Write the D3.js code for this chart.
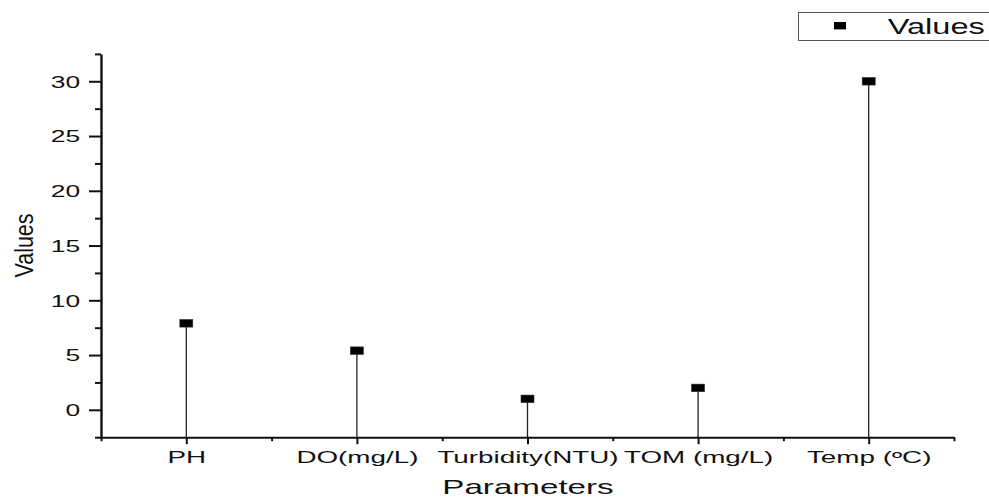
<!DOCTYPE html>
<html lang="en">
<head>
    <meta charset="UTF-8">
    <title>Parameters</title>
    <script src="https://d3js.org/d3.v7.min.js"></script>
    <style>
        body { margin: 0; background: #fff; }
        text { font-family: "Liberation Sans", Arial, sans-serif; fill: #111; }
    </style>
</head>
<body>
    <div id="chart"></div>
    <script>
    // data
    let categories = ["PH", "DO(mg/L)", "Turbidity(NTU)", "TOM (mg/L)", "Temp (\u00baC)"]
    let values = [7.9, 5.4, 1.0, 2.0, 30.0]
    let yTicks = [0, 5, 10, 15, 20, 25, 30]

    let width = 989,
        height = 497

    let svg = d3.select("#chart")
        .append("svg")
        .attr("width", width)
        .attr("height", height)

    // scales
    let x = d3.scaleLinear().domain([0.5, categories.length + 0.5]).range([101, 954])
    let y = d3.scaleLinear().domain([-2.5, 32.5]).range([437.2, 53.9])

    let idx = d3.range(1, categories.length + 1)

    // stems (drop lines to the bottom axis)
    svg.selectAll("line.stem")
        .data(values)
        .enter()
        .append("line")
        .attr("class", "stem")
        .attr("x1", (d, i) => x(i + 1))
        .attr("x2", (d, i) => x(i + 1))
        .attr("y1", d => y(d))
        .attr("y2", y(-2.5))
        .attr("stroke", "#222")
        .attr("stroke-width", 1.3)

    // markers
    svg.selectAll("rect.pt")
        .data(values)
        .enter()
        .append("rect")
        .attr("class", "pt")
        .attr("x", (d, i) => x(i + 1) - 6.5)
        .attr("y", d => y(d) - 3.8)
        .attr("width", 13)
        .attr("height", 7.6)
        .attr("fill", "#000")
        .attr("stroke", "#333")
        .attr("stroke-width", 0.6)

    // y axis, minor then major
    let yMinor = d3.range(-2.5, 33, 5)
    svg.append("g")
        .attr("transform", "translate(101,0)")
        .call(d3.axisLeft(y).tickValues(yMinor).tickSize(6).tickFormat(""))
        .call(g => g.select(".domain").remove())
        .call(g => g.selectAll("line").attr("stroke", "#111").attr("stroke-width", 2))

    let yAxis = svg.append("g")
        .attr("transform", "translate(101,0)")
        .call(d3.axisLeft(y).tickValues(yTicks).tickSize(12).tickSizeOuter(0).tickPadding(0))
    yAxis.select(".domain").attr("stroke", "#111").attr("stroke-width", 2.4)
    yAxis.selectAll(".tick line").attr("stroke", "#111").attr("stroke-width", 2)
    yAxis.selectAll(".tick text")
        .attr("x", -12.7)
        .attr("dy", "0.36em")
        .attr("transform", "scale(1.65,1)")
        .style("font-size", "16px")
        .style("font-family", "'Liberation Sans', Arial, sans-serif")
        .attr("fill", "#111")

    // x axis, minor then major
    svg.append("g")
        .attr("transform", "translate(0," + y(-2.5) + ")")
        .call(d3.axisBottom(x).tickValues(d3.range(0.5, categories.length + 1, 1)).tickSize(4).tickFormat(""))
        .call(g => g.select(".domain").remove())
        .call(g => g.selectAll("line").attr("stroke", "#111").attr("stroke-width", 2))

    let xAxis = svg.append("g")
        .attr("transform", "translate(0," + y(-2.5) + ")")
        .call(d3.axisBottom(x).tickValues(idx).tickSize(7).tickSizeOuter(0)
            .tickFormat(d => categories[d - 1]))
    xAxis.select(".domain").attr("stroke", "#111").attr("stroke-width", 2)
    xAxis.selectAll(".tick line").attr("stroke", "#111").attr("stroke-width", 2)
    xAxis.selectAll(".tick text")
        .attr("y", 25.8)
        .attr("dy", 0)
        .attr("transform", "scale(1.76,1)")
        .style("font-size", "15.8px")
        .style("font-family", "'Liberation Sans', Arial, sans-serif")
        .attr("fill", "#111")

    // axis titles
    svg.append("text")
        .attr("transform", "translate(528,493.5) scale(1.58,1)")
        .attr("text-anchor", "middle")
        .style("font-size", "21px")
        .text("Parameters")

    svg.append("text")
        .attr("transform", "translate(33,245.5) scale(1.2,1) rotate(-90)")
        .attr("text-anchor", "middle")
        .style("font-size", "21.5px")
        .text("Values")

    // legend
    let legend = svg.append("g")
    legend.append("rect")
        .attr("x", 798.5)
        .attr("y", 12.5)
        .attr("width", 200)
        .attr("height", 28)
        .attr("fill", "none")
        .attr("stroke", "#555")
        .attr("stroke-width", 1)
    legend.append("rect")
        .attr("x", 834)
        .attr("y", 22)
        .attr("width", 12)
        .attr("height", 7.4)
        .attr("fill", "#000")
    legend.append("text")
        .attr("transform", "translate(887.7,34) scale(1.48,1)")
        .style("font-size", "22px")
        .text("Values")
    </script>
</body>
</html>
